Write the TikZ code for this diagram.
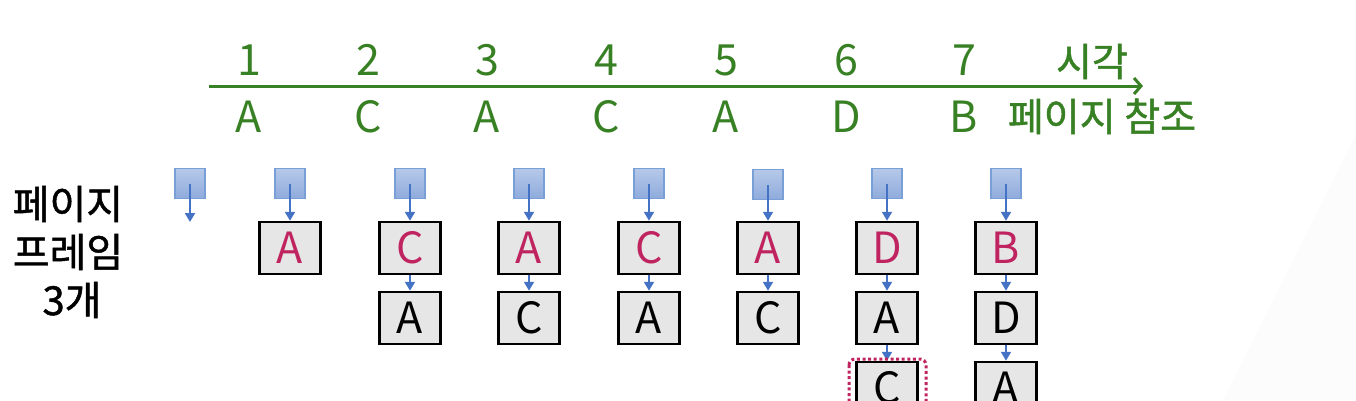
\documentclass[tikz,border=0pt]{standalone}
\usepackage{fontspec}
\setmainfont{Noto Sans CJK KR}
\newfontfamily\kfont[FakeBold=1.2]{Noto Sans CJK KR}
\usetikzlibrary{arrows.meta}
\definecolor{tgreen}{RGB}{56,128,36}
\definecolor{tred}{RGB}{192,36,96}
\definecolor{barrc}{RGB}{68,114,196}
\definecolor{boxgray}{RGB}{230,230,230}
\definecolor{sqborder}{RGB}{120,160,215}
\definecolor{sqtop}{RGB}{182,201,233}
\definecolor{sqbot}{RGB}{143,170,220}
\definecolor{bgfaint}{RGB}{252,252,252}
\begin{document}
\begin{tikzpicture}[x=1pt,y=-1pt,
  frame/.style={draw=black, line width=2.5pt, fill=boxgray, minimum width=61pt, minimum height=52pt,
    inner sep=0pt, text height=31pt, text depth=0pt, font=\fontsize{43}{46}\selectfont},
  hot/.style={frame, text=tred},
  sq/.style={draw=sqborder, line width=1.2pt, top color=sqtop, bottom color=sqbot, minimum size=30pt, inner sep=0pt},
  barr/.style={draw=barrc, line width=2pt, -{Triangle[length=9pt,width=10pt]}},
  tlab/.style={text=tgreen, anchor=base, inner sep=0pt, font=\fontsize{43}{46}\selectfont},
  klab/.style={text=tgreen, anchor=base, inner sep=0pt, font=\kfont\fontsize{39}{42}\selectfont},
  leftlab/.style={text=black, anchor=base, inner sep=0pt, font=\kfont\fontsize{40}{42}\selectfont},
  dotbox/.style={draw=tred, line width=3pt, dash pattern=on 3pt off 2.6pt, rounded corners=6pt}
]
\useasboundingbox (0,0) rectangle (1356,400);
\fill[bgfaint] (1356,134) -- (1356,400) -- (1223,400) -- cycle;

% timeline
\coordinate (tl0) at (209,86);
\coordinate (tl1) at (1143,86);
\draw[tgreen, line width=3pt, -{Straight Barb[length=7pt,width=16pt]}] (tl0) -- (tl1);
\node[tlab] (t1) at (249,75) {1};
\node[tlab] (t2) at (368,75) {2};
\node[tlab] (t3) at (487,75) {3};
\node[tlab] (t4) at (606,75) {4};
\node[tlab] (t5) at (726,75) {5};
\node[tlab] (t6) at (846,75) {6};
\node[tlab] (t7) at (964,75) {7};
\node[klab] (tk) at (1092,76) {시각};
\node[tlab] (p1) at (249,132) {A};
\node[tlab] (p2) at (368,132) {C};
\node[tlab] (p3) at (487,132) {A};
\node[tlab] (p4) at (606,132) {C};
\node[tlab] (p5) at (726,132) {A};
\node[tlab] (p6) at (846,132) {D};
\node[tlab] (p7) at (964,132) {B};
\node[klab] (pk) at (1102,131) {페이지 참조};

% left label
\node[leftlab] (l1) at (68,219) {페이지};
\node[leftlab] (l2) at (68,267) {프레임};
\node[leftlab] (l3) at (72,315) {3개};

% column 0
\node[sq] (s0) at (190,183.5) {};
\coordinate (e0) at (190,222);
\draw[barr] (s0.center) -- (e0);

% column 1
\node[sq] (s1) at (290,183.5) {};
\node[hot] (b11) at (290,248) {A};
\draw[barr] (s1.center) -- (b11.north);

% column 2
\node[sq] (s2) at (410,183.5) {};
\node[hot] (b21) at (410,248) {C};
\node[frame] (b22) at (410,318) {A};
\draw[barr] (s2.center) -- (b21.north);
\draw[barr] (b21.south) -- (b22.north);

% column 3
\node[sq] (s3) at (529,183.5) {};
\node[hot] (b31) at (529,248) {A};
\node[frame] (b32) at (529,318) {C};
\draw[barr] (s3.center) -- (b31.north);
\draw[barr] (b31.south) -- (b32.north);

% column 4
\node[sq] (s4) at (649,183.5) {};
\node[hot] (b41) at (649,248) {C};
\node[frame] (b42) at (649,318) {A};
\draw[barr] (s4.center) -- (b41.north);
\draw[barr] (b41.south) -- (b42.north);

% column 5
\node[sq] (s5) at (768,184.5) {};
\node[hot] (b51) at (768,248) {A};
\node[frame] (b52) at (768,318) {C};
\draw[barr] (s5.center) -- (b51.north);
\draw[barr] (b51.south) -- (b52.north);

% column 6
\node[sq] (s6) at (887,183.5) {};
\node[hot] (b61) at (887,248) {D};
\node[frame] (b62) at (887,318) {A};
\node[frame] (b63) at (887,388) {C};
\draw[barr] (s6.center) -- (b61.north);
\draw[barr] (b61.south) -- (b62.north);
\draw[barr] (b62.south) -- (b63.north);
\draw[dotbox] (849,359) rectangle (926,440);

% column 7
\node[sq] (s7) at (1006,183.5) {};
\node[hot] (b71) at (1006,248) {B};
\node[frame] (b72) at (1006,318) {D};
\node[frame] (b73) at (1006,388) {A};
\draw[barr] (s7.center) -- (b71.north);
\draw[barr] (b71.south) -- (b72.north);
\draw[barr] (b72.south) -- (b73.north);
\end{tikzpicture}
\end{document}
